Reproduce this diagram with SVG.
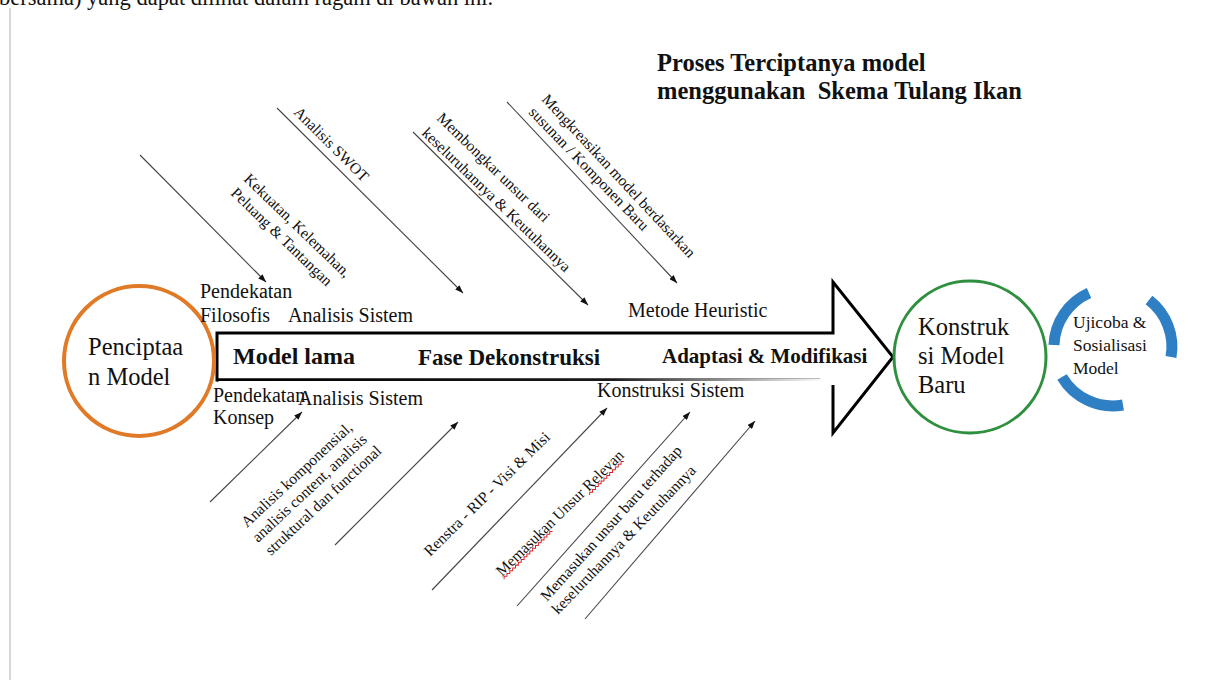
<svg xmlns="http://www.w3.org/2000/svg" width="1213" height="680" viewBox="0 0 1213 680">
<defs>
<style>
text{font-family:"Liberation Serif","Times New Roman",serif;fill:#111}
.lbl{font-size:20px}
.big{font-size:24.5px}
.bold{font-weight:bold}
.diag{font-size:15.5px}
.conn{stroke:#444;stroke-width:1.1;fill:none}
.arrowbody{stroke:#000;stroke-width:3;fill:#fff;stroke-linejoin:miter}
</style>
<marker id="ah" viewBox="0 0 8 6" refX="8" refY="3" markerWidth="8" markerHeight="6" markerUnits="userSpaceOnUse" orient="auto">
<path d="M0,0 L8,3 L0,6 z" fill="#111"/>
</marker>
<linearGradient id="fade" gradientUnits="userSpaceOnUse" x1="217" y1="0" x2="825" y2="0">
<stop offset="0" stop-color="#000"/>
<stop offset="0.65" stop-color="#1a1a1a"/>
<stop offset="1" stop-color="#fff"/>
</linearGradient>
</defs>
<rect width="1213" height="680" fill="#fff"/>
<line x1="10" y1="8" x2="10" y2="680" stroke="#d8d8d8" stroke-width="2"/>
<text font-size="22.5" x="-1" y="5">bersama) yang dapat dilihat dalam ragam di bawah ini.</text>

<g id="title">
<text class="bold" font-size="24.5" x="657" y="71">Proses Terciptanya model</text>
<text class="bold" font-size="24.5" x="657" y="99" xml:space="preserve">menggunakan  Skema Tulang Ikan</text>
</g>

<g id="spine">
<path class="arrowbody" d="M820,380 L217,380 L217,333 L833,333 L833,282 L893,357 L833,433 L833,385" fill="#fff"/>
<rect x="217" y="378.5" width="608" height="3" fill="url(#fade)"/>
<rect x="218.5" y="381" width="612" height="3" fill="#fff"/>
<text class="bold" font-size="24" x="233" y="364">Model lama</text>
<text class="bold" font-size="23" x="418" y="365">Fase Dekonstruksi</text>
<text class="bold" font-size="21" x="662" y="363">Adaptasi &amp; Modifikasi</text>
</g>

<g id="node-penciptaan">
<circle cx="139" cy="361" r="75" fill="none" stroke="#E07A26" stroke-width="4"/>
<text class="big" x="88" y="355">Penciptaa</text>
<text class="big" x="88" y="385">n Model</text>
</g>

<g id="node-konstruksi">
<circle cx="970" cy="357" r="76" fill="none" stroke="#2E8F3E" stroke-width="3"/>
<text class="big" x="918" y="335">Konstruk</text>
<text class="big" x="918" y="364">si Model</text>
<text class="big" x="918" y="393">Baru</text>
</g>

<g id="node-ujicoba">
<g fill="none" stroke="#2F7FC4" stroke-width="11">
<path d="M1054,345 A59,59 0 0 1 1089,293"/>
<path d="M1149,300 A59,59 0 0 1 1171,357"/>
<path d="M1123,405 A59,59 0 0 1 1062,377"/>
</g>
<text font-size="17.5" x="1073" y="328">Ujicoba &amp;</text>
<text font-size="17.5" x="1073" y="351">Sosialisasi</text>
<text font-size="17.5" x="1073" y="374">Model</text>
</g>

<g id="labels-top">
<text class="lbl" x="200" y="298">Pendekatan</text>
<text class="lbl" x="200" y="322">Filosofis</text>
<text class="lbl" x="288" y="322">Analisis Sistem</text>
<text class="lbl" font-size="20.5" x="628" y="317">Metode Heuristic</text>
</g>
<g id="labels-bottom">
<text class="lbl" x="213" y="402">Pendekatan</text>
<text class="lbl" x="213" y="424">Konsep</text>
<text class="lbl" x="298" y="405">Analisis Sistem</text>
<text class="lbl" x="597" y="397">Konstruksi Sistem</text>
</g>

<g id="connectors">
<line class="conn" x1="140" y1="155" x2="266" y2="282" marker-end="url(#ah)"/>
<line class="conn" x1="277" y1="108" x2="463" y2="293" marker-end="url(#ah)"/>
<line class="conn" x1="413" y1="132" x2="588" y2="305" marker-end="url(#ah)"/>
<line class="conn" x1="507" y1="102" x2="677" y2="283" marker-end="url(#ah)"/>
<line class="conn" x1="210" y1="502" x2="302" y2="412" marker-end="url(#ah)"/>
<line class="conn" x1="335" y1="545" x2="458" y2="422" marker-end="url(#ah)"/>
<line class="conn" x1="432" y1="590" x2="607" y2="408" marker-end="url(#ah)"/>
<line class="conn" x1="517" y1="606" x2="690" y2="412" marker-end="url(#ah)"/>
<line class="conn" x1="585" y1="619" x2="755" y2="421" marker-end="url(#ah)"/>
</g>

<g id="diag-top">
<text class="diag" transform="translate(293,113) rotate(45)">Analisis SWOT</text>
<text class="diag" transform="translate(243,180) rotate(44)">Kekuatan, Kelemahan,</text>
<text class="diag" transform="translate(230,194) rotate(44)">Peluang &amp; Tantangan</text>
<text class="diag" transform="translate(436,119) rotate(44)">Membongkar unsur dari</text>
<text class="diag" transform="translate(421,134) rotate(44)">keseluruhannya &amp; Keutuhannya</text>
<text class="diag" transform="translate(541,100) rotate(47)">Mengkreasikan model berdasarkan</text>
<text class="diag" transform="translate(528,113) rotate(46)">susunan / Komponen Baru</text>
</g>

<g id="diag-bottom">
<text class="diag" transform="translate(247,528) rotate(-43)">Analisis komponensial,</text>
<text class="diag" transform="translate(258,543) rotate(-43)">analisis content, analisis</text>
<text class="diag" transform="translate(271,556) rotate(-43)">struktural dan functional</text>
<text class="diag" transform="translate(430,557) rotate(-44.5)">Renstra - RIP - Visi &amp; Misi</text>
<g transform="translate(502,577) rotate(-44.5)">
<text class="diag" x="0" y="0">Memasukan Unsur Relevan</text>
<path d="M0,3 l2,-2 l2,2 l2,-2 l2,2 l2,-2 l2,2 l2,-2 l2,2 l2,-2 l2,2 l2,-2 l2,2 l2,-2 l2,2 l2,-2 l2,2 l2,-2 l2,2 l2,-2 l2,2 l2,-2 l2,2 l2,-2 l2,2 l2,-2 l2,2 l2,-2 l2,2 l2,-2 l2,2 l2,-2 l2,2 l2,-2 l2,2" fill="none" stroke="#e02020" stroke-width="1"/>
<path d="M120,3 l2,-2 l2,2 l2,-2 l2,2 l2,-2 l2,2 l2,-2 l2,2 l2,-2 l2,2 l2,-2 l2,2 l2,-2 l2,2 l2,-2 l2,2 l2,-2 l2,2 l2,-2 l2,2 l2,-2 l2,2 l2,-2 l2,2" fill="none" stroke="#e02020" stroke-width="1"/>
</g>
<text class="diag" transform="translate(547,602) rotate(-48)">Memasukan unsur baru terhadap</text>
<text class="diag" transform="translate(558,615) rotate(-46)">keseluruhannya &amp; Keutuhannya</text>
</g>
</svg>
